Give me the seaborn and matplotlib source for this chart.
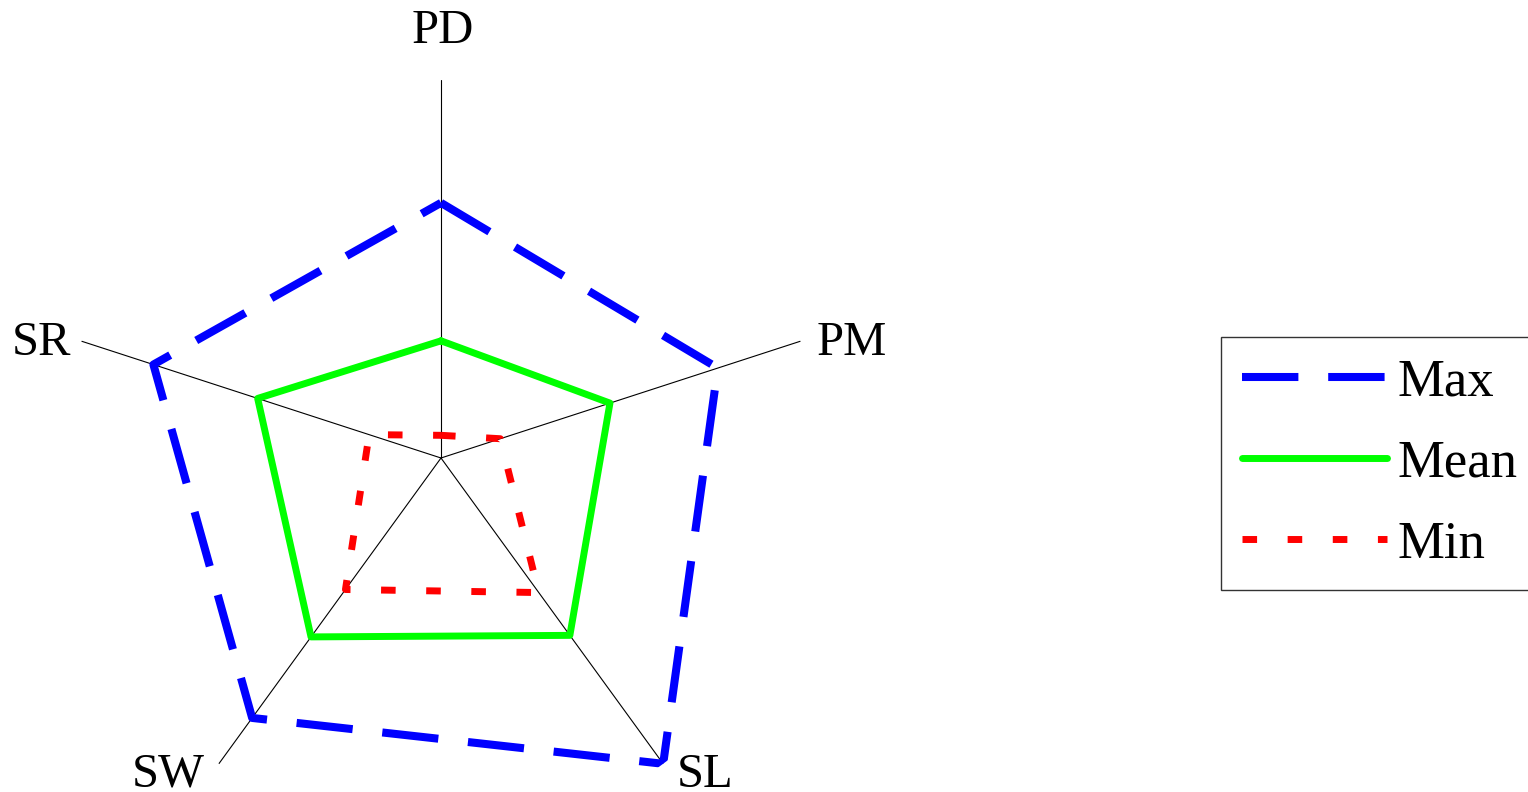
import numpy as np
import pandas as pd
import matplotlib
matplotlib.use("Agg")
import matplotlib.pyplot as plt
import seaborn as sns

# axis labels, clockwise from the top
labels = ["PD", "PM", "SL", "SW", "SR"]

# values (fraction of axis length)
max_vals = [0.675, 0.77, 1.00, 0.85, 0.80]
mean_vals = [0.31, 0.47, 0.58, 0.585, 0.51]
min_vals = [0.06, 0.165, 0.44, 0.43, 0.20]

series_names = ["Max", "Mean", "Min"]

sns.set_style("white")
plt.rcParams["font.family"] = ["Liberation Serif", "DejaVu Serif"]
plt.rcParams["text.color"] = "black"

n = len(labels)
angles = np.arange(n) * 2 * np.pi / n

fig = plt.figure(figsize=(15.28, 7.92), dpi=100)
ax = fig.add_axes([63 / 1528, -44 / 792, 756 / 1528, 756 / 792], projection="polar")
ax.set_theta_offset(np.pi / 2)
ax.set_theta_direction(-1)

# spokes
for t in angles:
    ax.plot([t, t], [0, 1], color="black", lw=0.8, zorder=1)


def closed(vals):
    return pd.DataFrame({
        "theta": np.append(angles, angles[0] + 2 * np.pi),
        "r": np.append(vals, vals[0]),
    })


styles = {
    "Max": dict(color="#0000ff", lw=5.8, linestyle=(0, (7.0, 3.7))),
    "Mean": dict(color="#00ff00", lw=5, linestyle="-", solid_capstyle="round"),
    "Min": dict(color="#ff0000", lw=5, linestyle=(0, (2.1, 4.4))),
}

for name, vals in zip(series_names, [max_vals, mean_vals, min_vals]):
    sns.lineplot(data=closed(vals), x="theta", y="r", ax=ax, sort=False,
                 estimator=None, label=name, zorder=3, **styles[name])

ax.set_ylim(0, 1)
ax.set_xticks([])
ax.set_yticks([])
ax.grid(False)
ax.spines["polar"].set_visible(False)
ax.set_xlabel("")
ax.set_ylabel("")
ax.patch.set_alpha(0)

# label offsets from the spoke tips, in pixels
offsets = [(2, 37), (51, -14), (42, -23), (-51, -23), (-40, -14)]
for t, lab, off in zip(angles, labels, offsets):
    ax.annotate(lab, xy=(t, 1), xycoords="data", xytext=off,
                textcoords="offset pixels", ha="center", va="baseline",
                fontsize=35, annotation_clip=False)

handles, labs = ax.get_legend_handles_labels()
ax.get_legend().remove()
leg = fig.legend(handles, labs, loc="upper left", bbox_to_anchor=(1221 / 1528, 1 - 337 / 792),
                 fontsize=38, frameon=True, fancybox=False, edgecolor="black",
                 handlelength=2.75, handletextpad=0.2, labelspacing=0.63,
                 borderpad=0.4, borderaxespad=0)
leg.get_frame().set_linewidth(1.0)

fig.savefig("out.png", dpi=100)
